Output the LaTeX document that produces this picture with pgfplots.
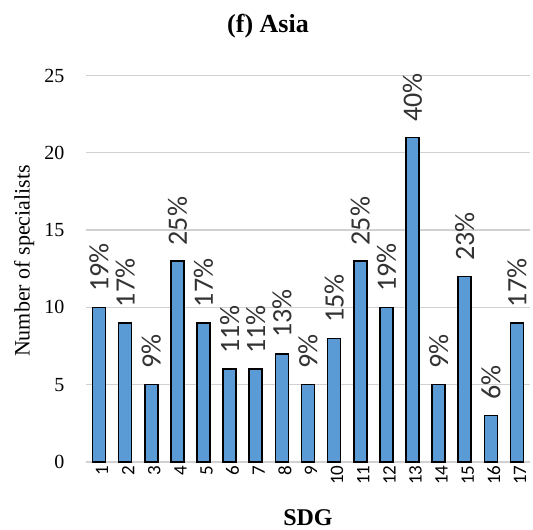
\documentclass[border=0pt]{standalone}
\usepackage{fontspec}
\setmainfont{Liberation Serif}
\setsansfont{Carlito}
\usepackage{pgfplots}
\pgfplotsset{compat=1.18}
\usepackage{pgfplotstable}
\definecolor{barblue}{HTML}{5B9BD5}
\pgfplotstableread{
x y p
1 10 19
2 9 17
3 5 9
4 13 25
5 9 17
6 6 11
7 6 11
8 7 13
9 5 9
10 8 15
11 13 25
12 10 19
13 21 40
14 5 9
15 12 23
16 3 6
17 9 17
}\asia
\begin{document}
\begin{tikzpicture}
\path[use as bounding box] (-86pt,-68pt) rectangle (447pt,462pt);
\begin{axis}[
  at={(0,0)}, anchor=south west,
  scale only axis, width=444pt, height=386.5pt,
  xmin=0.5, xmax=17.5, ymin=0, ymax=25,
  ytick={0,5,10,15,20,25},
  xtick={1,...,17},
  axis line style={draw=none},
  major tick length=0pt,
  ymajorgrids, major grid style={color=black!18, line width=1.2pt},
  /pgf/number format/assume math mode=true,
  yticklabel style={font=\fontsize{20}{24}\selectfont, xshift=-18pt},
  xticklabel style={font=\sffamily\fontsize{19}{22}\selectfont, rotate=90, anchor=east, yshift=-3pt},
  title={\textbf{(f) Asia}},
  title style={font=\fontsize{26}{30}\selectfont, at={(axis description cs:0.41,1.112)}, anchor=center},
  xlabel={\textbf{SDG}},
  xlabel style={font=\fontsize{24}{28}\selectfont, at={(axis description cs:0.5,-0.145)}, anchor=center},
  ylabel={Number of specialists},
  ylabel style={font=\fontsize{22}{26}\selectfont, at={(axis description cs:-0.139,0.52)}, anchor=center},
  clip=false,
]
\addplot[ybar, bar width=13pt, fill=barblue, draw=black, line width=1.6pt,
  point meta=explicit symbolic,
  nodes near coords={\pgfplotspointmeta\%},
  nodes near coords style={font=\sffamily\fontsize{28}{30}\selectfont, rotate=90, anchor=west, inner xsep=15pt, inner ysep=0pt, black!80},
] table[x=x, y=y, meta=p] {\asia};
\end{axis}
\end{tikzpicture}
\end{document}
